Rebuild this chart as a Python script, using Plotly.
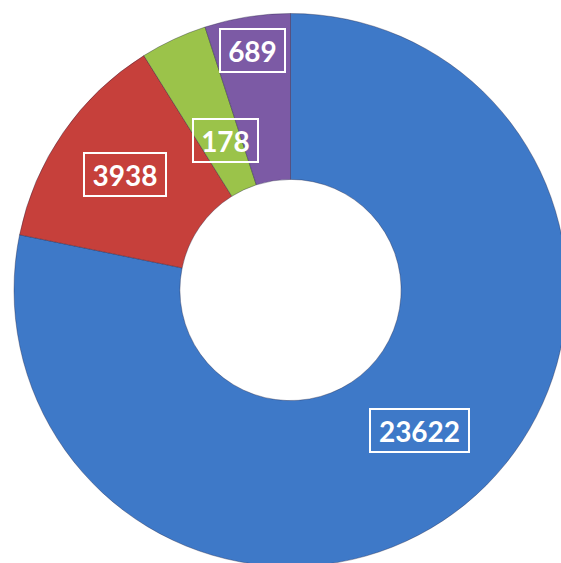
import math
import plotly.graph_objects as go

# Data
labels = ["23622", "3938", "178", "689"]          # numbers printed on the slices
shares = [78.2, 12.9, 3.9, 5.0]
colors = ["#3e79c8", "#c6403b", "#9bc34a", "#7c5aa5"]

# Style / layout
label_radius = [0.69, 0.73, 0.59, 0.877]           # radial placement of each label (fraction of outer radius)
label_angle_shift = [-3.5, 0.0, 1.6, 0.0]           # small angular nudge of each label (degrees)
W, H = 567, 567
ML, MT = 14, 13
HOLE = 0.40

fig = go.Figure(go.Pie(
    values=shares,
    labels=labels,
    sort=False,
    direction="clockwise",
    rotation=0,
    hole=HOLE,
    marker=dict(colors=colors, line=dict(color="rgba(30,30,60,0.35)", width=1)),
    textinfo="none",
    hoverinfo="label",
    showlegend=False,
))

# Label boxes placed at each slice's mid-angle, computed from the data
pw, ph = W - ML, H - MT
cx, cy = ML + pw / 2, MT + ph / 2
R = min(pw, ph) / 2
total = sum(shares)
cum = 0.0
annotations = []
for lab, val, rf, da in zip(labels, shares, label_radius, label_angle_shift):
    mid = (cum + val / 2) / total * 2 * math.pi + math.radians(da)
    cum += val
    px = cx + rf * R * math.sin(mid)
    py = cy - rf * R * math.cos(mid)
    annotations.append(dict(
        x=(px - ML) / pw, y=1 - (py - MT) / ph,
        xref="paper", yref="paper",
        text=f"<b>{lab}</b>", showarrow=False,
        font=dict(family="Lato", size=28, color="white"),
        bordercolor="white", borderwidth=2, borderpad=3,
        width=17 * len(lab) + 6, height=35,
        xanchor="center", yanchor="middle",
    ))

fig.update_layout(
    width=W, height=H,
    margin=dict(l=ML, t=MT, r=0, b=0),
    paper_bgcolor="white",
    plot_bgcolor="white",
    annotations=annotations,
)

fig.write_html(
    "out.html",
    config={"displayModeBar": False},
    post_script="document.body.style.margin='0';document.body.style.overflow='hidden';",
)
